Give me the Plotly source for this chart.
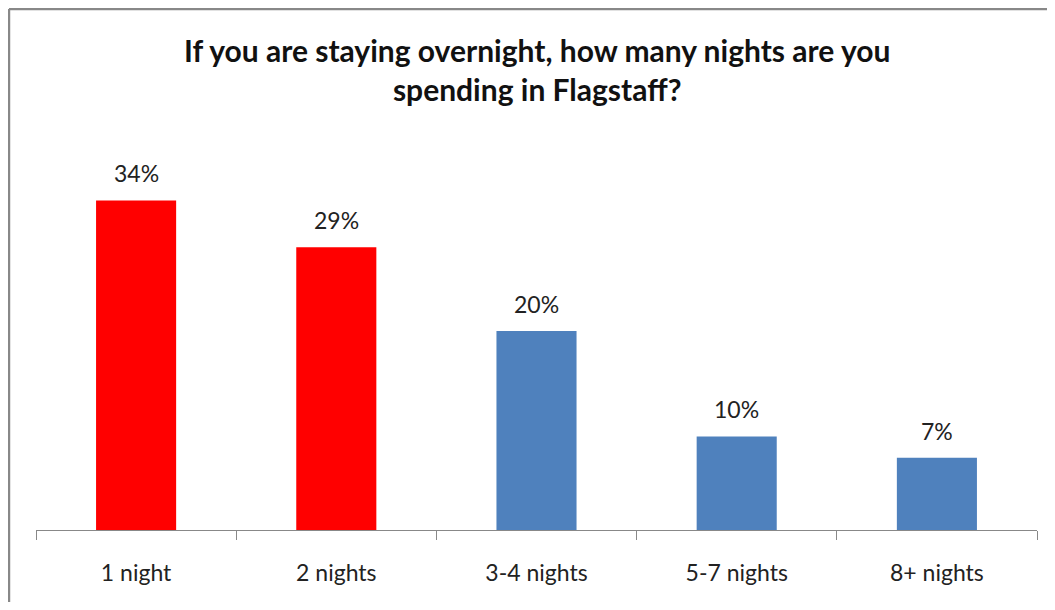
import plotly.graph_objects as go

categories = ["1 night", "2 nights", "3-4 nights", "5-7 nights", "8+ nights"]
values = [33.8, 29.0, 20.4, 9.6, 7.4]
labels = ["34%", "29%", "20%", "10%", "7%"]
bar_colors = ["#FF0000", "#FF0000", "#4F81BD", "#4F81BD", "#4F81BD"]

FONT = "Lato"

fig = go.Figure()

fig.add_trace(go.Bar(
    x=categories,
    y=values,
    marker_color=bar_colors,
    marker_line_width=0,
    hoverinfo="x+y",
))

for cat, val, lab in zip(categories, values, labels):
    fig.add_annotation(
        x=cat, y=val, text=lab,
        showarrow=False, yanchor="bottom", yshift=11,
        font=dict(family=FONT, size=23, color="#222222"),
    )

# title as an annotation so both lines sit where they should
fig.add_annotation(
    text="<b>If you are staying overnight, how many nights are you<br>spending in Flagstaff?</b>",
    xref="paper", yref="paper", x=0.5, y=1.182,
    xanchor="center", yanchor="middle", showarrow=False,
    font=dict(family=FONT, size=30, color="#111111"),
)

# outer chart border: only the left and top edges are in view
border = dict(color="#888888", width=2.5)
fig.add_shape(type="line", xref="paper", yref="paper",
              x0=-0.027, x1=-0.027, y0=-0.35, y1=1.336, line=border)
fig.add_shape(type="line", xref="paper", yref="paper",
              x0=-0.027, x1=1.1, y0=1.336, y1=1.336, line=border)

# sized so the page (with its 8px body margin) fits the window without scrollbars
fig.update_layout(
    width=1039,
    height=594,
    plot_bgcolor="white",
    paper_bgcolor="white",
    showlegend=False,
    bargap=0.6,
    margin=dict(l=28, r=10, t=132, b=72),
    xaxis=dict(
        showline=True, linecolor="#888888", linewidth=1,
        ticks="outside", tickson="boundaries", ticklen=9,
        tickcolor="#888888", tickwidth=1,
        ticklabelstandoff=22,
        tickfont=dict(family=FONT, size=23, color="#222222"),
        showgrid=False,
    ),
    yaxis=dict(
        range=[0, 40], visible=False, showgrid=False, zeroline=False,
    ),
)

fig.write_html("out.html")
